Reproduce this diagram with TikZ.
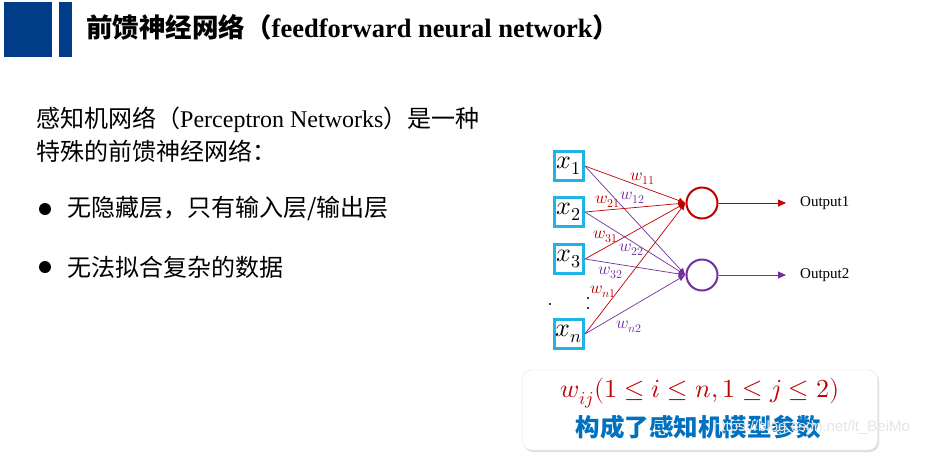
\documentclass[tikz,border=0pt]{standalone}
\usepackage{fontspec}
\usepackage{unicode-math}
\setmainfont{Liberation Serif}
\setmathfont{Latin Modern Math}
\newfontfamily\cjk{Noto Sans CJK SC}
\newfontfamily\wmfont{Liberation Sans}
\usetikzlibrary{arrows.meta,positioning,shadows}

\definecolor{hdrblue}{HTML}{003C88}
\definecolor{boxcyan}{HTML}{1FB4E6}
\definecolor{nred}{HTML}{C00000}
\definecolor{npurple}{HTML}{7030A0}
\definecolor{txtblue}{HTML}{0070C0}

\begin{document}
\begin{tikzpicture}[x=1pt, y=-1pt,
  body/.style={anchor=west, inner sep=0pt, font=\fontsize{24}{27}\selectfont},
  inp/.style={draw=boxcyan, line width=2.8pt, minimum size=29pt, inner sep=0pt, font=\fontsize{26}{26}\selectfont},
  neuron/.style={circle, line width=2pt, minimum size=31pt, inner sep=0pt},
  wgt/.style={inner sep=0pt, font=\fontsize{17}{17}\selectfont},
  link/.style={-{Latex[length=7pt,width=6pt]}, line width=0.7pt},
  outarr/.style={-{Triangle[length=8pt,width=7pt]}, line width=0.8pt, shorten >=14pt},
  outlbl/.style={anchor=west, inner sep=0pt, font=\fontsize{15}{15}\selectfont}
]
  \useasboundingbox (0,0) rectangle (929,456);

  % header
  \fill[hdrblue] (4,2) rectangle (52,57);
  \fill[hdrblue] (59,2) rectangle (72,57);
  \node[anchor=west, inner sep=0pt, font=\fontsize{26.5}{28}\selectfont] (title) at (86,27)
    {{\cjk\bfseries 前馈神经网络（}\textbf{feedforward neural network}{\cjk\bfseries ）}};

  % left text
  \node[body] (intro1) at (36,120) {{\cjk 感知机网络（}Perceptron Networks{\cjk ）是一种}};
  \node[body] (intro2) at (36,151) {\cjk 特殊的前馈神经网络：};
  \node[circle, fill=black, minimum size=12pt, inner sep=0pt] (bul1) at (45,209) {};
  \node[circle, fill=black, minimum size=12pt, inner sep=0pt] (bul2) at (45,267) {};
  \node[body] (item1) at (67,209) {\cjk 无隐藏层，只有输入层/输出层};
  \node[body] (item2) at (67,267) {\cjk 无法拟合复杂的数据};

  % network
  \node[inp] (x1) at (569,166) {$x_1$};
  \node[inp] (x2) at (569,212) {$x_2$};
  \node[inp] (x3) at (569,259) {$x_3$};
  \node[inp] (xn) at (569,334) {$x_n$};
  \node[neuron, draw=nred] (y1) at (702,203) {};
  \node[neuron, draw=npurple] (y2) at (702,275) {};

  \foreach \i in {1,2,3,n} {
    \draw[link, nred] (x\i.east) -- (y1.west);
    \draw[link, npurple] (x\i.east) -- (y2.west);
  }

  \node[outlbl] (o1) at (800,203) {Output1};
  \node[outlbl] (o2) at (800,275) {Output2};
  \draw[outarr, nred] (y1.east) -- (o1.west);
  \draw[outarr, npurple] (y2.east) -- (o2.west);

  \node[wgt, nred] (w11) at (643,179) {$w_{11}$};
  \node[wgt, npurple] (w12) at (633,198) {$w_{12}$};
  \node[wgt, nred] (w21) at (608,202) {$w_{21}$};
  \node[wgt, nred] (w31) at (606,237) {$w_{31}$};
  \node[wgt, npurple] (w22) at (632,250) {$w_{22}$};
  \node[wgt, npurple] (w32) at (611,273) {$w_{32}$};
  \node[wgt, nred] (wn1) at (603,292) {$w_{n1}$};
  \node[wgt, npurple] (wn2) at (629,327) {$w_{n2}$};

  \fill (550,304) circle (1.2pt);
  \fill (588,298) circle (1.2pt);
  \fill (588,308) circle (1.2pt);

  % parameter box
  \node[draw=black!12, fill=white, rounded corners=9pt, minimum width=355pt, minimum height=80pt,
        drop shadow={shadow xshift=1.5pt, shadow yshift=-2pt, opacity=0.25}] (note) at (700,410) {};
  \node[nred, font=\fontsize{26}{26}\selectfont] (param) at (700,393)
    {$w_{ij}(1\leq i\leq n,1\leq j\leq 2)$};
  \node[txtblue, font=\fontsize{24.5}{25}\selectfont] (desc) at (698,427) {\cjk\bfseries 构成了感知机模型参数};
  \node[anchor=west, inner sep=0pt, text=black!10, font=\wmfont\fontsize{15}{15}\selectfont] (wm) at (713,428)
    {https://blog.csdn.net/lt\_BeiMo};
\end{tikzpicture}
\end{document}
